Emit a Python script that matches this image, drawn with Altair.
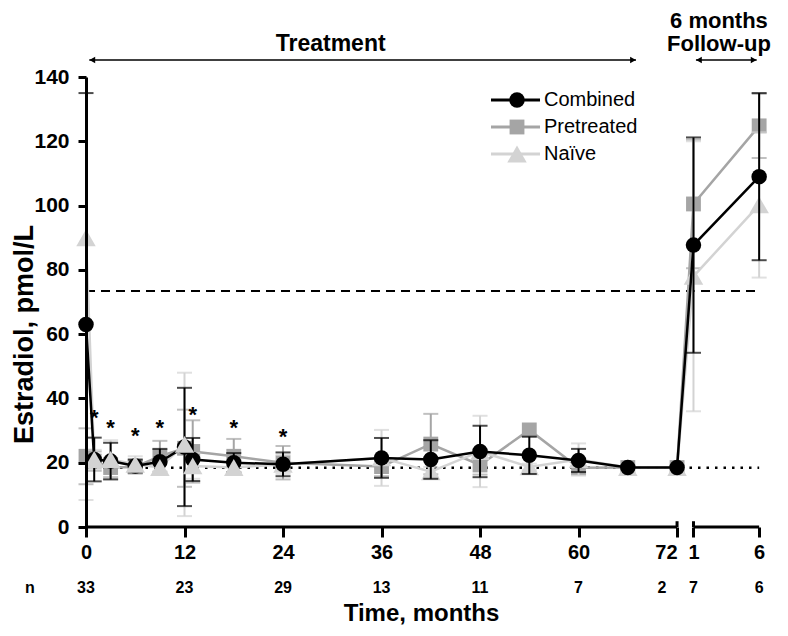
import altair as alt
import pandas as pd

FONT = "Liberation Sans"

# ---------------- data ----------------
series_names = ["Combined", "Pretreated", "Naïve"]
treat_months = [0, 1, 3, 6, 9, 12, 13, 18, 24, 36, 42, 48, 54, 60, 66, 72]
followup_months = [1, 6]

combined_mean = [63, 21, 20.5, 19, 20.3, 24.9, 21, 20, 19.5, 21.5, 21, 23.5, 22.3, 20.7, 18.5, 18.5, 87.7, 109]
combined_err = [72, 6.8, 5.7, 2, 4, 18.4, 6.7, 3, 3.7, 6.2, 6, 8, 5.8, 3.6, 0, 0, 33.5, 26]
pretreated_mean = [22, 20.5, 18.5, 18.7, 22, 24.5, 23.5, 22, 20, 18.8, 25.8, 19.3, 30.2, 18.4, 18.5, 18.5, 100.5, 124.8]
pretreated_err = [8.7, 3, 3, 2, 4.8, 12, 9.7, 5.4, 5.2, 3, 9.4, 3, 0, 2, 0, 0, 20, 10]
naive_mean = [90, 21, 21, 19.5, 18.5, 25.7, 19, 18.5, 19.5, 21.5, 17.2, 23.5, 18.7, 21, 18.5, 18.5, 78, 100.2]
naive_err = [81.6, 3, 6, 2.5, 2, 22.3, 4, 2, 3, 8.7, 1.5, 11.1, 1, 5, 0, 0, 42, 22.6]

tick_months = [0, 12, 24, 36, 48, 60, 72]
n_counts = [33, 23, 29, 13, 11, 7, 2, 7, 6]

star_months = [1, 3, 6, 9, 13, 18, 24]
star_vals = [35.5, 32.5, 30, 32.5, 36.5, 32.5, 29.5]

ref_dashed = 73.4
ref_dotted = 18.4

# ---------------- layout helpers ----------------
FU_POS = {1: 74, 6: 82}          # follow-up months placed after the axis break
TREAT_END = 72
NAIVE_FRONT_UNTIL = 18           # naive markers drawn above combined up to this month
positions = treat_months + [FU_POS[m] for m in followup_months]
tick_pos = tick_months + [FU_POS[m] for m in followup_months]
tick_lab = [str(m) for m in tick_months] + [str(m) for m in followup_months]

COLORS = {"Combined": "#000000", "Pretreated": "#A5A5A5", "Naïve": "#D3D3D3"}
SHAPES = {"Combined": "circle", "Pretreated": "square", "Naïve": "triangle-up"}
SIZES = {"Combined": 240, "Pretreated": 220, "Naïve": 380}
MEANS = {"Combined": combined_mean, "Pretreated": pretreated_mean, "Naïve": naive_mean}
ERRS = {"Combined": combined_err, "Pretreated": pretreated_err, "Naïve": naive_err}

YMAX = 140
W, H = 683, 450

label_expr = " : ".join(
    f"datum.value == {p} ? '{l}'" for p, l in zip(tick_pos, tick_lab)
) + " : ''"

xscale = alt.Scale(domain=[0, 83.2], nice=False, zero=False)
yscale = alt.Scale(domain=[0, YMAX], nice=False)

xaxis = alt.Axis(
    values=tick_pos, labelExpr=label_expr, domain=False, grid=False,
    tickSize=10, tickWidth=3, tickColor="black",
    labelFont=FONT, labelFontSize=20, labelFontWeight="bold", labelColor="black",
    labelPadding=5, labelFlush=False, labelOverlap=False,
    labelAlign={"condition": {"test": f"datum.value == {TREAT_END}", "value": "right"}, "value": "center"},
    titleFont=FONT, titleFontSize=24, titleFontWeight="bold", titleColor="black",
    titleX=335, titleY=86, titleBaseline="middle", titleAlign="center",
)
yaxis = alt.Axis(
    values=list(range(0, 141, 20)), grid=False,
    domainWidth=3, domainColor="black", tickSize=8, tickWidth=3, tickColor="black",
    labelFont=FONT, labelFontSize=21, labelFontWeight="bold", labelColor="black",
    labelPadding=9,
    titleFont=FONT, titleFontSize=27, titleFontWeight="bold", titleColor="black",
    titleX=-62, titleY=257, titleBaseline="middle", titleAlign="center", titleAngle=-90,
    zindex=1,
)


def Xq(field):
    return alt.X(f"{field}:Q", scale=xscale, axis=xaxis, title="Time, months")


def Yq(field):
    return alt.Y(f"{field}:Q", scale=yscale, axis=yaxis, title="Estradiol, pmol/L")


layers = []

# reference lines
ref_df = pd.DataFrame({"pos": [0], "pos2": [FU_POS[6]], "dash": [ref_dashed], "dot": [ref_dotted]})
layers.append(alt.Chart(ref_df).mark_rule(color="black", strokeWidth=2, strokeDash=[9, 6]).encode(
    x=Xq("pos"), x2="pos2", y=Yq("dash")))
layers.append(alt.Chart(ref_df).mark_rule(color="black", strokeWidth=2.5, strokeDash=[2.5, 6]).encode(
    x=Xq("pos"), x2="pos2", y=Yq("dot")))

frames = {}
for s in series_names:
    df = pd.DataFrame({"pos": positions, "val": MEANS[s], "err": ERRS[s]})
    df["lo"] = df["val"] - df["err"]
    df["hi"] = df["val"] + df["err"]
    frames[s] = df


def series_body(s):
    df = frames[s]
    c = COLORS[s]
    out = []
    eb = df[df["err"] > 0].copy()
    eb["lo_c"] = eb["lo"].clip(lower=0)
    eb["hi_c"] = eb["hi"].clip(upper=YMAX)
    out.append(alt.Chart(eb).mark_rule(color=c, strokeWidth=2).encode(
        x=Xq("pos"), y=Yq("lo_c"), y2="hi_c"))
    lo_caps = eb[eb["lo"] >= 0]
    hi_caps = eb[eb["hi"] <= YMAX]
    out.append(alt.Chart(lo_caps).mark_tick(orient="horizontal", size=15, thickness=2, color=c).encode(
        x=Xq("pos"), y=Yq("lo")))
    out.append(alt.Chart(hi_caps).mark_tick(orient="horizontal", size=15, thickness=2, color=c).encode(
        x=Xq("pos"), y=Yq("hi")))
    out.append(alt.Chart(df).mark_line(color=c, strokeWidth=2.5).encode(
        x=Xq("pos"), y=Yq("val")))
    return out


def series_points(s, df):
    return alt.Chart(df).mark_point(filled=True, shape=SHAPES[s], size=SIZES[s], color=COLORS[s],
                                    opacity=1).encode(x=Xq("pos"), y=Yq("val"))


nv = frames["Naïve"]
nv_front = nv[nv["pos"] <= NAIVE_FRONT_UNTIL]
nv_back = nv[nv["pos"] > NAIVE_FRONT_UNTIL]

layers += series_body("Pretreated")
layers.append(series_points("Pretreated", frames["Pretreated"]))
layers += series_body("Naïve")
layers.append(series_points("Naïve", nv_back))
layers += series_body("Combined")
layers.append(series_points("Combined", frames["Combined"]))
layers.append(series_points("Naïve", nv_front))

# x-axis line with a break
seg_df = pd.DataFrame({"pos": [0, FU_POS[1]], "pos2": [TREAT_END, FU_POS[6]], "val": [0, 0]})
layers.append(alt.Chart(seg_df).mark_rule(color="black", strokeWidth=3).encode(
    x=Xq("pos"), x2="pos2", y=Yq("val")))
brk_df = pd.DataFrame({"pos": [TREAT_END, FU_POS[1]], "val": [0, 0], "val2": [1.8, 1.8]})
layers.append(alt.Chart(brk_df).mark_rule(color="black", strokeWidth=3).encode(
    x=Xq("pos"), y=Yq("val"), y2="val2"))

# significance stars
star_df = pd.DataFrame({"pos": star_months, "val": star_vals})
layers.append(alt.Chart(star_df).mark_text(text="*", font=FONT, fontSize=22, fontWeight="bold",
                                            color="black", baseline="alphabetic", dy=12).encode(
    x=Xq("pos"), y=Yq("val")))

# n row (the count under the 72 tick sits left of the axis break, like its tick label)
n_df = pd.DataFrame({"pos": tick_pos, "n": [str(v) for v in n_counts]})
n_main = n_df[n_df["pos"] != TREAT_END]
n_end = n_df[n_df["pos"] == TREAT_END]
layers.append(alt.Chart(n_main).mark_text(font=FONT, fontSize=16, fontWeight="bold", color="black",
                                           baseline="middle").encode(
    x=Xq("pos"), y=alt.value(511), text="n:N"))
layers.append(alt.Chart(n_end).mark_text(font=FONT, fontSize=16, fontWeight="bold", color="black",
                                          baseline="middle", dx=-15).encode(
    x=Xq("pos"), y=alt.value(511), text="n:N"))
layers.append(alt.Chart(pd.DataFrame({"t": ["n"]})).mark_text(
    font=FONT, fontSize=16, fontWeight="bold", color="black", baseline="middle").encode(
    x=alt.value(-56), y=alt.value(511), text="t:N"))

# top annotations
ann_df = pd.DataFrame({"pos": [29.8, 77.1, 77.1], "txt": ["Treatment", "6 months", "Follow-up"],
                       "row": [1, 0, 1], "fs": [23, 22, 22]})
for r, yv, fs in [(0, -56, 22), (1, -33, 22)]:
    sub = ann_df[ann_df["row"] == r]
    for _, rowv in sub.iterrows():
        layers.append(alt.Chart(pd.DataFrame([rowv])).mark_text(
            font=FONT, fontSize=int(rowv["fs"]), fontWeight="bold", color="black", baseline="middle").encode(
            x=Xq("pos"), y=alt.value(yv), text="txt:N"))

arr_df = pd.DataFrame({"pos": [0.4, FU_POS[1] + 0.3], "pos2": [67.0, FU_POS[6] - 0.3]})
layers.append(alt.Chart(arr_df).mark_rule(color="black", strokeWidth=1.5).encode(
    x=Xq("pos"), x2="pos2", y=alt.value(-17)))
layers.append(alt.Chart(arr_df).mark_point(shape="triangle-left", filled=True, size=45, color="black",
                                           opacity=1, xOffset=3).encode(
    x=Xq("pos"), y=alt.value(-17)))
layers.append(alt.Chart(arr_df).mark_point(shape="triangle-right", filled=True, size=45, color="black",
                                           opacity=1, xOffset=-3).encode(
    x=Xq("pos2"), y=alt.value(-17)))

# manual legend
for i, s in enumerate(series_names):
    yv = 23 + 27 * i
    c = COLORS[s]
    one = pd.DataFrame({"name": [s]})
    layers.append(alt.Chart(one).mark_rule(color=c, strokeWidth=3).encode(
        x=alt.value(405), x2=alt.value(454), y=alt.value(yv)))
    layers.append(alt.Chart(one).mark_point(filled=True, shape=SHAPES[s], size=SIZES[s], color=c, opacity=1).encode(
        x=alt.value(431), y=alt.value(yv)))
    layers.append(alt.Chart(one).mark_text(font=FONT, fontSize=20, color="black", align="left",
                                           baseline="middle").encode(
        x=alt.value(458), y=alt.value(yv), text="name:N"))

chart = alt.layer(*layers).properties(
    width=W, height=H,
    padding={"left": 78, "top": 69, "right": 11, "bottom": 101},
    autosize=alt.AutoSizeParams(type="none"),
).configure_view(stroke=None)

chart.save("out.html", embed_options={"renderer": "svg", "actions": False})
